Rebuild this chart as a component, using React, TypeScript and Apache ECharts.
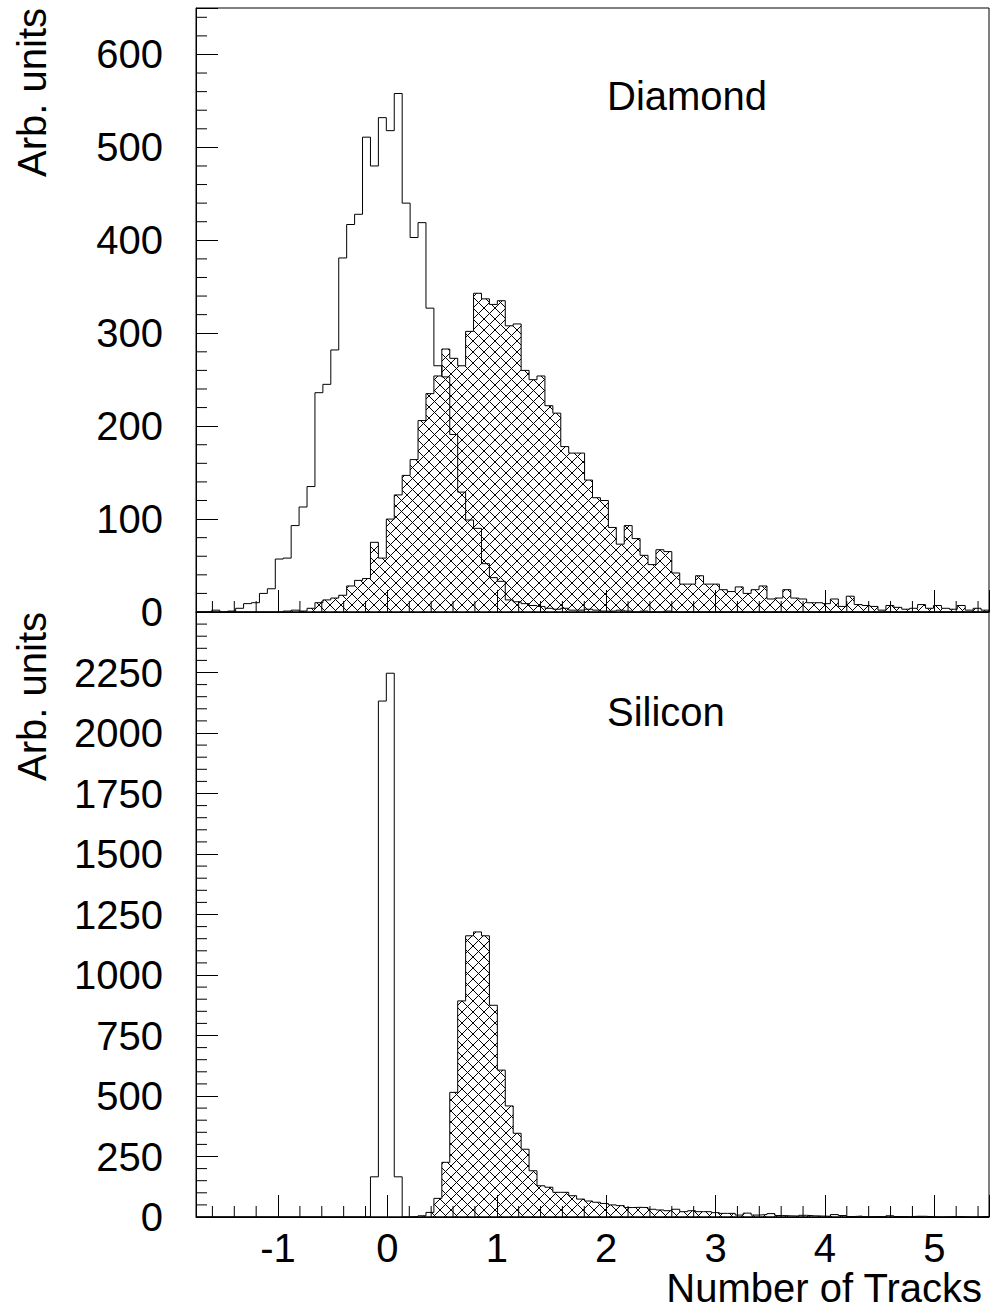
import React, { useEffect, useRef } from "react";
import * as echarts from "echarts";

// ---- axis ranges / ticks ----
const X_MIN = -1.75;
const X_MAX = 5.5;
const N_BINS = 100;
const X_TICK_LABELS = [-1, 0, 1, 2, 3, 4, 5];
const DIAMOND_Y_MAX = 650;
const DIAMOND_Y_STEP = 100;
const DIAMOND_Y_LABEL_MAX = 600;
const SILICON_Y_MAX = 2500;
const SILICON_Y_STEP = 250;
const SILICON_Y_LABEL_MAX = 2250;

// ---- Diamond panel (top) ----
const diamondOpen = [
  0, 0, 2, 0, 1, 4, 9, 10, 20, 25,
  57, 58, 93, 113, 135, 236, 245, 282, 381, 417,
  428, 511, 480, 532, 518, 558, 440, 403, 419, 327,
  265, 253, 191, 129, 99, 90, 52, 37, 33, 13,
  11, 9, 7, 6, 4, 3, 4, 2, 2, 3,
  2, 1, 1, 2, 1, 0, 1, 0, 0, 1,
  0, 0, 0, 0, 0, 0, 0, 0, 0, 0,
  0, 0, 0, 0, 0, 0, 0, 0, 0, 0,
  0, 0, 0, 0, 0, 0, 0, 0, 0, 0,
  0, 0, 0, 0, 0, 0, 0, 0, 0, 0,
];
const diamondHatched = [
  0, 0, 0, 0, 0, 0, 0, 0, 0, 0,
  0, 1, 2, 1, 4, 10, 13, 15, 18, 28,
  34, 36, 75, 58, 100, 126, 147, 164, 206, 235,
  254, 283, 273, 265, 302, 343, 337, 331, 335, 308,
  310, 260, 250, 254, 222, 214, 178, 171, 171, 142,
  123, 120, 91, 73, 93, 79, 61, 51, 67, 65,
  42, 30, 30, 39, 30, 30, 24, 22, 27, 20,
  24, 28, 14, 15, 24, 15, 14, 10, 10, 9,
  14, 6, 17, 8, 7, 6, 2, 7, 5, 3,
  4, 8, 4, 7, 4, 3, 7, 2, 4, 2,
];

// ---- Silicon panel (bottom) ----
const siliconOpen = [
  0, 0, 0, 0, 0, 0, 0, 0, 0, 0,
  0, 0, 0, 0, 0, 0, 0, 0, 0, 0,
  0, 0, 166, 2132, 2247, 166, 0, 0, 0, 0,
  0, 0, 0, 0, 0, 0, 0, 0, 0, 0,
  0, 0, 0, 0, 0, 0, 0, 0, 0, 0,
  0, 0, 0, 0, 0, 0, 0, 0, 0, 0,
  0, 0, 0, 0, 0, 0, 0, 0, 0, 0,
  0, 0, 0, 0, 0, 0, 0, 0, 0, 0,
  0, 0, 0, 0, 0, 0, 0, 0, 0, 0,
  0, 0, 0, 0, 0, 0, 0, 0, 0, 0,
];
const siliconHatched = [
  0, 0, 0, 0, 0, 0, 0, 0, 0, 0,
  0, 0, 0, 0, 0, 0, 0, 0, 0, 0,
  0, 0, 0, 0, 0, 0, 0, 2, 5, 19,
  77, 226, 515, 893, 1162, 1178, 1162, 875, 607, 459,
  346, 280, 191, 129, 123, 102, 102, 88, 74, 66,
  61, 56, 50, 47, 39, 40, 39, 32, 29, 26,
  32, 22, 26, 22, 22, 18, 15, 15, 8, 16,
  8, 10, 14, 6, 5, 4, 7, 5, 4, 3,
  10, 6, 2, 4, 1, 2, 1, 5, 2, 1,
  3, 3, 1, 0, 1, 2, 1, 0, 1, 2,
];

const FONT = "'Liberation Sans', Arial, Helvetica, sans-serif";
const BIN_W = (X_MAX - X_MIN) / N_BINS;
const edges = Array.from({ length: N_BINS + 1 }, (_, k) => X_MIN + k * BIN_W);

function stepData(vals: number[]) {
  const pts: number[][] = [[edges[0], 0]];
  vals.forEach((v, k) => pts.push([edges[k], v]));
  pts.push([edges[N_BINS], vals[N_BINS - 1]]);
  pts.push([edges[N_BINS], 0]);
  return pts;
}

function minorValues(start: number, end: number, step: number, major: number) {
  const out: number[] = [];
  const n0 = Math.ceil(start / step);
  const n1 = Math.floor(end / step);
  for (let i = n0; i <= n1; i++) {
    const t = Math.round(i * step * 1e6) / 1e6;
    if (t <= start || t >= end) continue;
    const r = t / major;
    if (Math.abs(r - Math.round(r)) < 1e-9) continue;
    out.push(t);
  }
  return out;
}

export default function App() {
  const ref = useRef<HTMLDivElement>(null);

  useEffect(() => {
    if (!ref.current) return;
    const chart = echarts.init(ref.current, undefined, { renderer: "svg" });

    const canvas = document.createElement("canvas");
    const S = 11;
    canvas.width = S;
    canvas.height = S;
    const ctx = canvas.getContext("2d")!;
    ctx.strokeStyle = "#000";
    ctx.lineWidth = 1;
    ctx.beginPath();
    ctx.moveTo(-1, -1);
    ctx.lineTo(S + 1, S + 1);
    ctx.moveTo(S + 1, -1);
    ctx.lineTo(-1, S + 1);
    ctx.stroke();
    const hatch: any = { image: canvas, repeat: "repeat" };

    const xMinor = minorValues(X_MIN, X_MAX, 0.2, 1);
    const yMinorTop = minorValues(0, DIAMOND_Y_MAX, 20, DIAMOND_Y_STEP);
    const yMinorBot = minorValues(0, SILICON_Y_MAX, 50, SILICON_Y_STEP);

    const tickStyle = { color: "#000", width: 1 };

    const xAxes = [0, 1].map((i) => ({
      type: "value",
      gridIndex: i,
      min: X_MIN,
      max: X_MAX,
      splitNumber: 7,
      minInterval: 1,
      maxInterval: 1,
      axisLine: { show: true, onZero: false, lineStyle: tickStyle },
      axisTick: { show: true, inside: true, length: 22, lineStyle: tickStyle },
      minorTick: { show: false },
      splitLine: { show: false },
      axisLabel: {
        show: i === 1,
        margin: 11,
        color: "#000",
        fontSize: 40,
        fontFamily: FONT,
        formatter: (v: number) =>
          X_TICK_LABELS.some((t) => Math.abs(t - v) < 1e-9) ? String(Math.round(v)) : "",
      },
    }));

    const yAxisBase = (idx: number, max: number, step: number, labelMax: number) => ({
      type: "value",
      gridIndex: idx,
      min: 0,
      max,
      interval: step,
      axisLine: { show: true, onZero: false, lineStyle: tickStyle },
      axisTick: { show: true, inside: true, length: 22, lineStyle: tickStyle },
      splitLine: { show: false },
      axisLabel: {
        margin: 33,
        color: "#000",
        fontSize: 40,
        fontFamily: FONT,
        formatter: (v: number) => (v <= labelMax ? String(v) : ""),
      },
    });

    const yAxes = [
      yAxisBase(0, DIAMOND_Y_MAX, DIAMOND_Y_STEP, DIAMOND_Y_LABEL_MAX),
      yAxisBase(1, SILICON_Y_MAX, SILICON_Y_STEP, SILICON_Y_LABEL_MAX),
    ];

    const histLine = (data: number[], idx: number, hatched: boolean) => ({
      type: "line",
      xAxisIndex: idx,
      yAxisIndex: idx,
      data: stepData(data),
      step: "end",
      symbol: "none",
      silent: true,
      lineStyle: { color: "#000", width: 1 },
      areaStyle: hatched ? { color: hatch, opacity: 1 } : undefined,
      z: hatched ? 2 : 3,
    });

    const xMinorSeries = (idx: number) => ({
      type: "custom",
      xAxisIndex: idx,
      yAxisIndex: idx,
      silent: true,
      clip: false,
      z: 5,
      data: xMinor.map((t) => [t, 0]),
      renderItem: (_p: any, api: any) => {
        const p = api.coord([api.value(0), api.value(1)]);
        return {
          type: "line",
          shape: { x1: p[0], y1: p[1], x2: p[0], y2: p[1] - 11 },
          style: { stroke: "#000", lineWidth: 1 },
        };
      },
    });

    const yMinorSeries = (idx: number, vals: number[]) => ({
      type: "custom",
      xAxisIndex: idx,
      yAxisIndex: idx,
      silent: true,
      clip: false,
      z: 5,
      data: vals.map((v) => [X_MIN, v]),
      renderItem: (_p: any, api: any) => {
        const p = api.coord([api.value(0), api.value(1)]);
        return {
          type: "line",
          shape: { x1: p[0], y1: p[1], x2: p[0] + 11, y2: p[1] },
          style: { stroke: "#000", lineWidth: 1 },
        };
      },
    });

    const txt = (text: string, x: number, y: number, align: string, rotation = 0) => ({
      type: "text",
      x,
      y,
      rotation,
      silent: true,
      style: {
        text,
        fill: "#000",
        fontSize: 40,
        fontFamily: FONT,
        align,
        verticalAlign: "middle",
      },
    });

    chart.setOption({
      animation: false,
      backgroundColor: "#fff",
      grid: [
        { left: 196, top: 8, width: 793, height: 604, show: true, borderColor: "#000", borderWidth: 1, backgroundColor: "transparent" },
        { left: 196, top: 612, width: 793, height: 605, show: true, borderColor: "#000", borderWidth: 1, backgroundColor: "transparent" },
      ],
      xAxis: xAxes,
      yAxis: yAxes,
      series: [
        histLine(diamondHatched, 0, true),
        histLine(diamondOpen, 0, false),
        histLine(siliconHatched, 1, true),
        histLine(siliconOpen, 1, false),
        xMinorSeries(0),
        xMinorSeries(1),
        yMinorSeries(0, yMinorTop),
        yMinorSeries(1, yMinorBot),
      ],
      graphic: [
        txt("Arb. units", 32, 8, "right", Math.PI / 2),
        txt("Arb. units", 32, 612, "right", Math.PI / 2),
        txt("Diamond", 607, 96, "left"),
        txt("Silicon", 607, 712, "left"),
        txt("Number of Tracks", 982, 1288, "right"),
      ],
    });

    return () => chart.dispose();
  }, []);

  return (
    <div
      ref={ref}
      style={{ position: "absolute", left: 0, top: 0, width: 993, height: 1316 }}
    />
  );
}
